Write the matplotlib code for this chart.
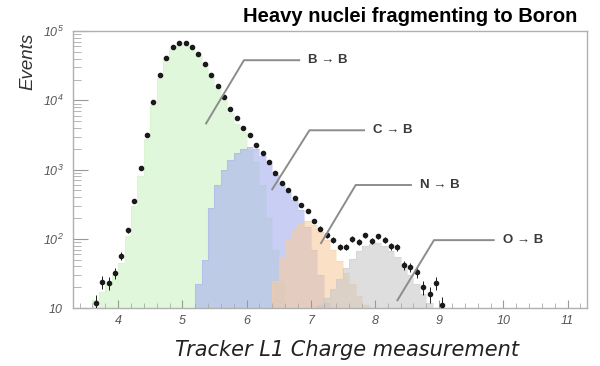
import numpy as np
import matplotlib
matplotlib.use('Agg')
import matplotlib.pyplot as plt
from matplotlib.ticker import FixedLocator, FixedFormatter, MultipleLocator, LogLocator, NullFormatter

plt.rcParams['mathtext.fontset'] = 'custom'
plt.rcParams['mathtext.it'] = 'Liberation Sans:italic'
plt.rcParams['mathtext.rm'] = 'Liberation Sans:italic'
plt.rcParams['mathtext.default'] = 'it'

# measured charge, bin centres 3.65 .. 9.05 (width 0.1)
data_x = [3.65, 3.75, 3.85, 3.95, 4.05, 4.15, 4.25, 4.35, 4.45, 4.55,
          4.65, 4.75, 4.85, 4.95, 5.05, 5.15, 5.25, 5.35, 5.45, 5.55,
          5.65, 5.75, 5.85, 5.95, 6.05, 6.15, 6.25, 6.35, 6.45, 6.55,
          6.65, 6.75, 6.85, 6.95, 7.05, 7.15, 7.25, 7.35, 7.45, 7.55,
          7.65, 7.75, 7.85, 7.95, 8.05, 8.15, 8.25, 8.35, 8.45, 8.55,
          8.65, 8.75, 8.85, 8.95, 9.05]
data_n = [12, 24, 23, 32, 57, 133, 350, 1040, 3200, 9600,
          23000, 41500, 59000, 67000, 67000, 59000, 46000, 34000, 23000, 16000,
          11200, 7500, 5500, 4050, 3130, 2250, 1740, 1290, 880, 643,
          505, 395, 306, 253, 182, 141, 113, 98, 77, 77,
          99, 91, 113, 94, 109, 96, 78, 76, 42, 39,
          33, 20, 16, 23, 11]

# simulated contributions, each as (first bin edge, counts per 0.1 bin)
bb_start = 3.5
bb_counts = [9, 13, 17, 22, 30, 45, 110, 300, 800, 2800,
             8500, 21000, 39000, 56000, 64000, 64000, 56000, 44000, 32000, 22000,
             15000, 10000, 6500, 4500, 3500, 1900, 1300, 600, 200, 70,
             25, 10]
cb_start = 5.2
cb_counts = [22, 50, 280, 600, 1000, 1400, 1750, 2000, 2100, 2000,
             1600, 1200, 850, 620, 480, 360, 260, 150, 70, 30, 12]
nb_start = 6.3
nb_counts = [10, 25, 55, 100, 140, 170, 180, 160, 125, 95,
             70, 48, 32, 22, 15, 11, 8]
ob_start = 7.0
ob_counts = [8, 11, 14, 19, 26, 38, 52, 66, 78, 84,
             86, 80, 68, 54, 40, 30, 22, 16, 12, 10, 8]

fig = plt.figure(figsize=(6, 3.66), dpi=100)
ax = fig.add_axes([0.122, 0.158, 0.856, 0.757])
ax.set_yscale('log')


def draw_hist(start, counts, color):
    edges = np.round(start + 0.1 * np.arange(len(counts) + 1), 2)
    ax.stairs(counts, edges, baseline=1, fill=True, color=color, alpha=0.6, lw=0)
    ax.stairs(counts, edges, baseline=1, color=color, alpha=0.35, lw=0.8)


draw_hist(bb_start, bb_counts, '#cdf2c3')
draw_hist(cb_start, cb_counts, '#a6aeee')
draw_hist(nb_start, nb_counts, '#f8cc9e')
draw_hist(ob_start, ob_counts, '#c8c8c8')

data_n = np.array(data_n, dtype=float)
ax.errorbar(data_x, data_n, yerr=np.sqrt(data_n), fmt='o', ms=3.0,
            color='#1a1a1a', ecolor='#1a1a1a', elinewidth=0.7, capsize=0, zorder=5)

# labels for the simulated components
labels = [
    ('B \u2192 B', (5.37, 4650), (5.96, 38000), (6.82, 38000)),
    ('C \u2192 B', (6.40, 520), (6.98, 3700), (7.83, 3700)),
    ('N \u2192 B', (7.16, 87), (7.70, 600), (8.56, 600)),
    ('O \u2192 B', (8.35, 13), (8.92, 96), (9.85, 96)),
]
for text, p0, p1, p2 in labels:
    ax.plot([p0[0], p1[0], p2[0]], [p0[1], p1[1], p2[1]], color='#8c8c8c', lw=1.4, zorder=6)
    ax.text(p2[0] + 0.14, p2[1], text, fontsize=9.5, fontweight='bold', color='#3a3a3a',
            family=['Liberation Sans', 'DejaVu Sans'], va='center', ha='left', zorder=6)

ax.set_xlim(3.3, 11.3)
ax.set_ylim(10, 1e5)

ax.xaxis.set_major_locator(MultipleLocator(1))
ax.xaxis.set_minor_locator(MultipleLocator(0.2))
ax.yaxis.set_major_locator(FixedLocator([10, 100, 1000, 1e4, 1e5]))
ax.yaxis.set_major_formatter(FixedFormatter(['$10$', '$10^{2}$', '$10^{3}$', '$10^{4}$', '$10^{5}$']))
ax.yaxis.set_minor_locator(LogLocator(base=10, subs=np.arange(2, 10)))
ax.yaxis.set_minor_formatter(NullFormatter())

ax.tick_params(axis='y', which='major', direction='in', length=11, width=0.8, color='#999999',
               labelsize=9, labelcolor='#555555', pad=7)
ax.tick_params(axis='y', which='minor', direction='in', length=6, width=0.6, color='#aaaaaa')
ax.tick_params(axis='x', which='major', direction='in', length=6, width=0.8, color='#999999',
               labelsize=9, labelcolor='#555555', pad=5)
ax.tick_params(axis='x', which='minor', direction='in', length=3.5, width=0.6, color='#aaaaaa')
for lab in ax.get_xticklabels():
    lab.set_fontstyle('italic')
    lab.set_family('Liberation Sans')

for side in ax.spines.values():
    side.set_color('#b0b0b0')
    side.set_linewidth(1.0)

fig.text(0.963, 0.956, 'Heavy nuclei fragmenting to Boron', fontsize=14.5, fontweight='bold',
         family='Liberation Sans', ha='right', va='center', color='black')
fig.text(0.578, 0.044, 'Tracker L1 Charge measurement', fontsize=15, style='italic',
         family='DejaVu Sans', ha='center', va='center', color='#222222')
fig.text(0.047, 0.833, 'Events', fontsize=13.5, style='italic', rotation=90,
         family='Liberation Sans', ha='center', va='center', color='#333333')

fig.savefig('out.png', dpi=100, facecolor='white')
